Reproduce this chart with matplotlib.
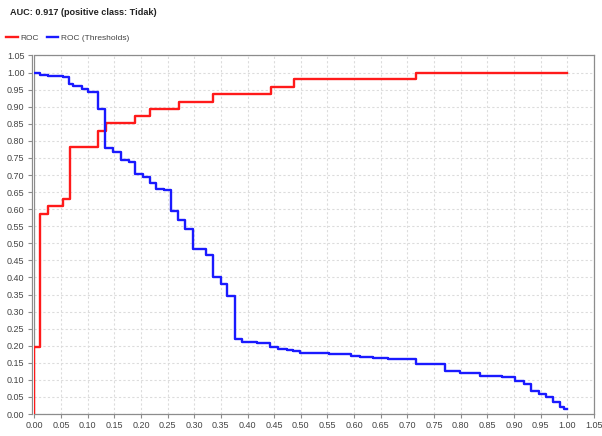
import numpy as np
import matplotlib
matplotlib.use("Agg")
import matplotlib.pyplot as plt
from matplotlib.ticker import MultipleLocator, FormatStrFormatter

plt.rcParams['font.family'] = ['Liberation Sans', 'DejaVu Sans']

# ROC curve (false positive rate vs true positive rate), step points
roc_fpr = [0.0, 0.0, 0.011, 0.025, 0.054, 0.067, 0.120, 0.134, 0.189, 0.217,
           0.272, 0.336, 0.444, 0.488, 0.716, 1.0]
roc_tpr = [0.0, 0.195, 0.587, 0.610, 0.631, 0.782, 0.828, 0.851, 0.872, 0.893,
           0.915, 0.937, 0.958, 0.980, 1.0, 1.0]

# ROC (Thresholds) curve, step points
thr_x = [0.0, 0.011, 0.026, 0.054, 0.066, 0.073, 0.089, 0.101, 0.119, 0.133,
         0.148, 0.162, 0.177, 0.189, 0.203, 0.217, 0.228, 0.243, 0.256, 0.270,
         0.283, 0.297, 0.323, 0.336, 0.350, 0.362, 0.377, 0.389, 0.417, 0.443,
         0.458, 0.475, 0.486, 0.498, 0.552, 0.567, 0.595, 0.611, 0.636, 0.664,
         0.716, 0.771, 0.799, 0.836, 0.877, 0.902, 0.919, 0.932, 0.946, 0.960,
         0.973, 0.986, 0.994, 1.0]
thr_y = [1.0, 0.992, 0.989, 0.987, 0.966, 0.961, 0.953, 0.943, 0.892, 0.780,
         0.767, 0.745, 0.737, 0.702, 0.695, 0.678, 0.660, 0.655, 0.595, 0.568,
         0.543, 0.482, 0.467, 0.402, 0.380, 0.346, 0.221, 0.212, 0.207, 0.195,
         0.189, 0.187, 0.184, 0.180, 0.177, 0.175, 0.171, 0.167, 0.163, 0.161,
         0.146, 0.127, 0.121, 0.111, 0.107, 0.097, 0.088, 0.067, 0.058, 0.049,
         0.036, 0.020, 0.014, 0.014]

title = "AUC: 0.917 (positive class: Tidak)"

fig = plt.figure(figsize=(6.02, 4.36), dpi=100)
ax = fig.add_axes([34.3 / 602, 22 / 436, (594 - 34.3) / 602, (414 - 55.5) / 436])

grid_col = "#dcdcdc"
edge_col = "#8c8c8c"

ax.plot(roc_fpr, roc_tpr, drawstyle="steps-post", color="#ff1a1a", lw=1.7,
        label="ROC", zorder=3)
ax.plot(thr_x, thr_y, drawstyle="steps-post", color="#1a1aff", lw=1.7,
        label="ROC (Thresholds)", zorder=3)

ax.set_xlim(0, 1.05)
ax.set_ylim(0, 1.05)
ax.xaxis.set_major_locator(MultipleLocator(0.05))
ax.yaxis.set_major_locator(MultipleLocator(0.05))
ax.xaxis.set_major_formatter(FormatStrFormatter("%.2f"))
ax.yaxis.set_major_formatter(FormatStrFormatter("%.2f"))
ax.grid(True, color=grid_col, linestyle=(0, (2, 2)), linewidth=0.8)
ax.set_axisbelow(True)

for s in ax.spines.values():
    s.set_color(edge_col)
    s.set_linewidth(0.9)
ax.spines['left'].set_position(('outward', 2))
ax.axvline(0, color=edge_col, lw=0.9, zorder=2)

ax.tick_params(axis="both", direction="out", length=3, width=0.8,
               color=edge_col, labelsize=6.5, labelcolor="#444444", pad=2)

fig.text(10 / 602, 1 - 12.5 / 436, title, fontsize=6.6, fontweight="bold",
         va="center", ha="left", color="#222222")

fig.legend(loc="center left", bbox_to_anchor=(3 / 602, 1 - 38.5 / 436),
           ncol=2, frameon=False, fontsize=6.0, handlelength=1.4,
           handletextpad=0.3, columnspacing=0.9, borderaxespad=0,
           labelcolor="#444444")

fig.savefig("out.png", dpi=100)
